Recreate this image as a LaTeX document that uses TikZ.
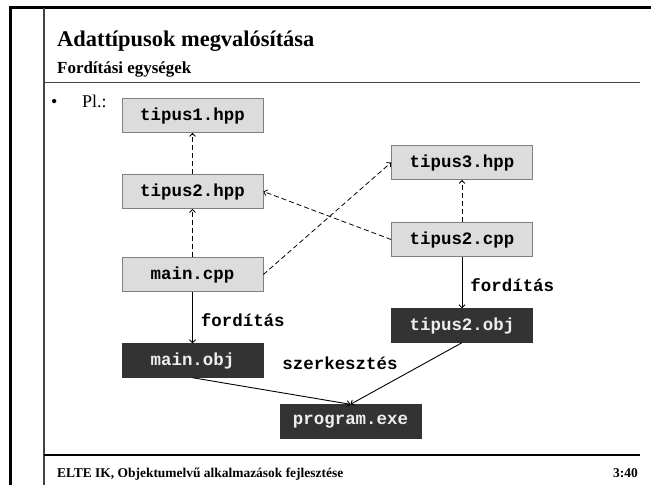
\documentclass[tikz,border=0pt]{standalone}
\usepackage{fontspec}
\setmainfont{Liberation Serif}
\newfontfamily\monofont{Liberation Mono}
\usetikzlibrary{arrows.meta}
\definecolor{lightbox}{HTML}{DCDCDC}
\definecolor{lightedge}{HTML}{7F7F7F}
\definecolor{darkbox}{HTML}{333333}
\definecolor{darktext}{HTML}{EEEEEE}
\definecolor{rulegray}{HTML}{444444}
\begin{document}
\begin{tikzpicture}[x=1bp,y=-1bp,
  monotext/.style={font=\monofont\bfseries\fontsize{17.5}{20}\selectfont},
  lbox/.style={monotext, draw=lightedge, fill=lightbox, line width=0.8bp, minimum width=141bp, minimum height=34bp, inner sep=0pt},
  dbox/.style={monotext, draw=darkbox, fill=darkbox, text=darktext, minimum width=141bp, minimum height=34bp, inner sep=0pt},
  dep/.style={dash pattern=on 5bp off 3bp, line width=0.8bp, -{Straight Barb[length=3bp,width=6bp]}},
  flow/.style={line width=0.9bp, -{Straight Barb[length=3bp,width=6bp]}},
  lbl/.style={monotext, inner sep=0pt},
  headtext/.style={anchor=base west, inner sep=0pt}
]
\useasboundingbox (0,0) rectangle (651,485);
\fill[white] (0,0) rectangle (651,485);
% frame
\draw[line width=3bp] (10,486) -- (10,8) -- (652,8);
\draw[line width=1.2bp, rulegray] (44,8) -- (44,486);
\draw[line width=1.6bp, rulegray] (44,82.5) -- (640,82.5);
\draw[line width=1.2bp, black] (44,455) -- (640,455);
% header
\node[headtext, font=\bfseries\fontsize{22.5}{26}\selectfont] (title) at (57,47) {Adattípusok megvalósítása};
\node[headtext, font=\bfseries\fontsize{17}{20}\selectfont] (subtitle) at (57,74) {Fordítási egységek};
\node[headtext, font=\fontsize{18}{20}\selectfont] (bullet) at (51,108) {\textbullet};
\node[headtext, font=\fontsize{18}{20}\selectfont] (pl) at (82,108) {Pl.:};
% boxes
\node[lbox] (t1h) at (192.5,115.5) {tipus1.hpp};
\node[lbox] (t2h) at (192.5,191.5) {tipus2.hpp};
\node[lbox] (mc) at (192.5,274.5) {main.cpp};
\node[dbox] (mo) at (192.5,360.5) {main.obj};
\node[lbox] (t3h) at (462,162.5) {tipus3.hpp};
\node[lbox] (t2c) at (462,239.5) {tipus2.cpp};
\node[dbox] (t2o) at (462,325.5) {tipus2.obj};
\node[dbox] (pe) at (350.5,421.5) {program.exe};
% dependencies
\draw[dep] (t2h) -- (t1h);
\draw[dep] (mc) -- (t2h);
\draw[dep] (mc.east) -- (t3h.west);
\draw[dep] (t2c.west) -- (t2h.east);
\draw[dep] (t2c) -- (t3h);
% compile / link
\draw[flow] (mc) -- node[lbl, anchor=west, xshift=8bp, yshift=-3bp] (f1) {fordítás} (mo);
\draw[flow] (t2c) -- node[lbl, anchor=west, xshift=8bp, yshift=-3bp] (f2) {fordítás} (t2o);
\draw[flow] (mo.south) -- (pe.north);
\draw[flow] (t2o.south) -- (pe.north);
\node[lbl] (sz) at (340,363) {szerkesztés};
% footer
\node[headtext, font=\bfseries\fontsize{13.5}{16}\selectfont] (foot) at (57,477) {ELTE IK, Objektumelvű alkalmazások fejlesztése};
\node[anchor=base east, inner sep=0pt, font=\bfseries\fontsize{13.5}{16}\selectfont] (page) at (638,477) {3:40};
\end{tikzpicture}
\end{document}
